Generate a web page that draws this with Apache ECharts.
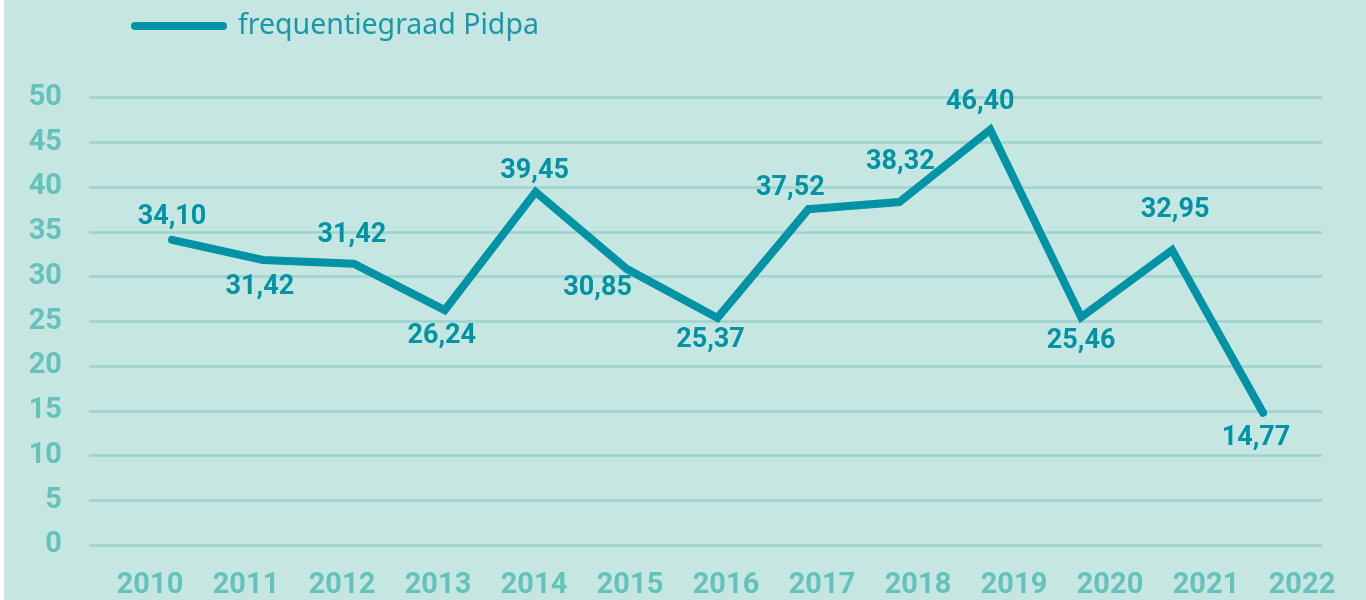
<!DOCTYPE html>
<html>
<head>
<meta charset="utf-8">
<script src="https://cdn.jsdelivr.net/npm/echarts@6/dist/echarts.min.js"></script>
<style>
  html, body { margin: 0; padding: 0; background: #ffffff; }
  #chart { width: 1366px; height: 600px; }
</style>
</head>
<body>
<div id="chart"></div>
<script>
// years shown on the x axis
const years = ["2010", "2011", "2012", "2013", "2014", "2015", "2016", "2017", "2018", "2019", "2020", "2021", "2022"];
// plotted values
const frequency = [34.10, 31.85, 31.42, 26.24, 39.45, 30.85, 25.37, 37.52, 38.32, 46.40, 25.46, 32.95, 14.77];
// value labels as printed in the picture
const valueLabels = ["34,10", "31,42", "31,42", "26,24", "39,45", "30,85", "25,37", "37,52", "38,32", "46,40", "25,46", "32,95", "14,77"];
const seriesName = "frequentiegraad Pidpa";

// label offsets from the point (px), to copy the hand placed labels
const labelOffsets = [
  [0, -23], [-3, 27], [-2, -29], [-3, 26], [-1, -21], [-29, 19], [-7, 22],
  [-18, -21], [1, -40], [-10, -27], [0, 24], [3, -40], [-7, 25]
];

const LINE = "#0093a6";
const AXIS_TEXT = "#63c2ba";
const GRID_LINE = "#9dd3cf";

const chart = echarts.init(document.getElementById("chart"), null, { renderer: "canvas" });

chart.setOption({
  backgroundColor: "#c6e6e1",
  animation: false,
  // thin white strip on the far left
  graphic: [{ type: "rect", shape: { x: 0, y: 0, width: 4, height: 600 }, style: { fill: "#ffffff" } }],
  legend: {
    data: [seriesName],
    left: 126,
    top: 2,
    itemWidth: 96,
    itemHeight: 8,
    icon: "path://M4,0 H92 A4,4 0 0 1 92,8 H4 A4,4 0 0 1 4,0 Z",
    textStyle: {
      fontFamily: "'Noto Sans', sans-serif",
      fontSize: 28.5,
      lineHeight: 38,
      color: "#1a97a9",
      padding: [0, 0, 0, 6]
    }
  },
  // grid 0: gridlines + y labels, grid 1: year labels, grid 2: the line itself
  grid: [
    { left: 89, right: 44, top: 97.5, bottom: 55 },
    { left: 150, right: 64, top: 97.5, bottom: 55 },
    { left: 172, right: 103, top: 97.5, bottom: 55 }
  ],
  xAxis: [
    { gridIndex: 0, type: "category", data: years, show: false },
    {
      gridIndex: 1,
      type: "category",
      data: years,
      boundaryGap: false,
      axisLine: { show: false },
      axisTick: { show: false },
      axisLabel: {
        interval: 0,
        margin: 27,
        color: AXIS_TEXT,
        fontFamily: "Roboto, sans-serif",
        fontWeight: "bold",
        fontSize: 29
      }
    },
    { gridIndex: 2, type: "category", data: years, boundaryGap: false, show: false }
  ],
  yAxis: [
    {
      gridIndex: 0,
      type: "value",
      min: 0,
      max: 50,
      interval: 5,
      axisLine: { show: false },
      axisTick: { show: false },
      axisLabel: {
        margin: 27,
        color: AXIS_TEXT,
        fontFamily: "Roboto, sans-serif",
        fontWeight: "bold",
        fontSize: 29
      },
      splitLine: { lineStyle: { color: GRID_LINE, width: 2.5 } }
    },
    { gridIndex: 1, type: "value", min: 0, max: 50, show: false },
    { gridIndex: 2, type: "value", min: 0, max: 50, show: false }
  ],
  series: [
    {
      name: seriesName,
      type: "line",
      xAxisIndex: 2,
      yAxisIndex: 2,
      color: LINE,
      symbol: "circle",
      symbolSize: 1,
      lineStyle: { width: 8, color: LINE, cap: "round", join: "miter" },
      itemStyle: { color: LINE },
      label: {
        show: true,
        position: "inside",
        align: "center",
        verticalAlign: "middle",
        color: LINE,
        fontFamily: "Roboto, sans-serif",
        fontWeight: "bold",
        fontSize: 27,
        formatter: (p) => valueLabels[p.dataIndex]
      },
      data: frequency.map((v, i) => ({ value: v, label: { offset: labelOffsets[i] } }))
    }
  ]
});
</script>
</body>
</html>
